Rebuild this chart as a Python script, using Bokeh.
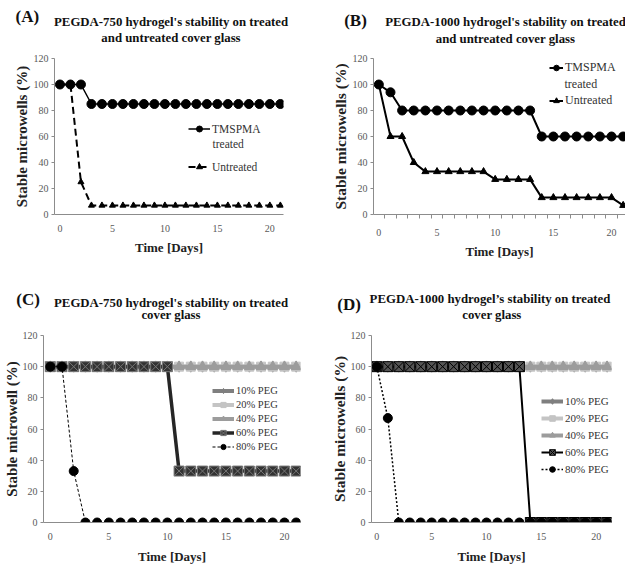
from bokeh.plotting import figure
from bokeh.models import Label, Legend, LegendItem, FixedTicker, Range1d
from bokeh.layouts import column, row
from bokeh.embed import file_html
from bokeh.resources import INLINE

# ---------------- data ----------------
days = [0, 1, 2, 3, 4, 5, 6, 7, 8, 9, 10, 11, 12, 13, 14, 15, 16, 17, 18, 19, 20, 21]
x_ticks = [0, 5, 10, 15, 20]
y_ticks = [0, 20, 40, 60, 80, 100, 120]

a_treated = [100, 100, 100, 85, 85, 85, 85, 85, 85, 85, 85, 85, 85, 85, 85, 85, 85, 85, 85, 85, 85, 85]
a_untreated = [100, 100, 25, 7, 7, 7, 7, 7, 7, 7, 7, 7, 7, 7, 7, 7, 7, 7, 7, 7, 7, 7]

b_treated = [100, 94, 80, 80, 80, 80, 80, 80, 80, 80, 80, 80, 80, 80, 60, 60, 60, 60, 60, 60, 60, 60]
b_untreated = [100, 60, 60, 40, 33, 33, 33, 33, 33, 33, 27, 27, 27, 27, 13, 13, 13, 13, 13, 13, 13, 7]

c_peg10 = [100, 100, 100, 100, 100, 100, 100, 100, 100, 100, 100, 100, 100, 100, 100, 100, 100, 100, 100, 100, 100, 100]
c_peg20 = [100, 100, 100, 100, 100, 100, 100, 100, 100, 100, 100, 100, 100, 100, 100, 100, 100, 100, 100, 100, 100, 100]
c_peg40 = [100, 100, 100, 100, 100, 100, 100, 100, 100, 100, 100, 100, 100, 100, 100, 100, 100, 100, 100, 100, 100, 100]
c_peg60 = [100, 100, 100, 100, 100, 100, 100, 100, 100, 100, 100, 33, 33, 33, 33, 33, 33, 33, 33, 33, 33, 33]
c_peg80 = [100, 100, 33, 0, 0, 0, 0, 0, 0, 0, 0, 0, 0, 0, 0, 0, 0, 0, 0, 0, 0, 0]

d_peg10 = [100, 100, 100, 100, 100, 100, 100, 100, 100, 100, 100, 100, 100, 100, 100, 100, 100, 100, 100, 100, 100, 100]
d_peg20 = [100, 100, 100, 100, 100, 100, 100, 100, 100, 100, 100, 100, 100, 100, 100, 100, 100, 100, 100, 100, 100, 100]
d_peg40 = [100, 100, 100, 100, 100, 100, 100, 100, 100, 100, 100, 100, 100, 100, 100, 100, 100, 100, 100, 100, 100, 100]
d_peg60 = [100, 100, 100, 100, 100, 100, 100, 100, 100, 100, 100, 100, 100, 100, 0, 0, 0, 0, 0, 0, 0, 0]
d_peg80 = [100, 67, 0, 0, 0, 0, 0, 0, 0, 0, 0, 0, 0, 0, 0, 0, 0, 0, 0, 0, 0, 0]

titles_top = ["(A)", "PEGDA-750 hydrogel's stability on treated", "and untreated cover glass",
              "(B)", "PEGDA-1000 hydrogel's stability on treated", "and untreated cover glass"]
titles_bottom = ["(C)", "PEGDA-750 hydrogel's stability on treated", "cover glass",
                 "(D)", "PEGDA-1000 hydrogel\u2019s stability on treated", "cover glass"]

SERIF = "Liberation Serif"


def make_header(w, h, texts, pos):
    hp = figure(width=w, height=h, output_backend="svg", toolbar_location=None,
                x_range=Range1d(0, w), y_range=Range1d(0, h),
                x_axis_location=None, y_axis_location=None, min_border=0)
    hp.outline_line_color = None
    hp.grid.visible = False
    for t, (x, y, size) in zip(texts, pos):
        hp.add_layout(Label(x=x, y=h - y, text=t, text_align="center",
                            text_baseline="middle", text_font=SERIF,
                            text_font_size=size, text_font_style="bold",
                            text_color="#111111"))
    return hp


def make_fig(w, h, left, right, top, bottom, xr, ylabel, ylabel_size, minor=False):
    p = figure(width=w, height=h, output_backend="svg", toolbar_location=None,
               x_range=Range1d(*xr), y_range=Range1d(0, 120),
               min_border_left=left, min_border_right=right,
               min_border_top=top, min_border_bottom=bottom)
    p.outline_line_color = None
    p.xgrid.grid_line_color = None
    p.ygrid.grid_line_color = None
    if minor:
        p.xaxis.ticker = FixedTicker(ticks=x_ticks, minor_ticks=[i - 0.5 for i in range(23)])
    else:
        p.xaxis.ticker = FixedTicker(ticks=x_ticks)
    p.yaxis.ticker = FixedTicker(ticks=y_ticks)
    for ax in (p.xaxis[0], p.yaxis[0]):
        ax.axis_line_color = "#8c8c8c"
        ax.axis_line_width = 1
        ax.major_tick_line_color = "#8c8c8c"
        ax.minor_tick_line_color = "#8c8c8c"
        ax.major_tick_in = 0
        ax.minor_tick_in = 0
        ax.major_label_text_font = SERIF
        ax.major_label_text_font_size = "10px"
        ax.major_label_text_color = "#595959"
        ax.axis_label_text_font = SERIF
        ax.axis_label_text_font_style = "bold"
        ax.axis_label_text_color = "#222222"
    p.xaxis.major_tick_out = 0
    p.xaxis.minor_tick_out = 4 if minor else 0
    p.yaxis.major_tick_out = 3
    p.yaxis.minor_tick_out = 0
    p.xaxis.axis_label = "Time [Days]"
    p.xaxis.axis_label_text_font_size = "13px"
    p.xaxis.major_label_standoff = 10
    p.xaxis.axis_label_standoff = 5
    p.yaxis.axis_label = ylabel
    p.yaxis.axis_label_text_font_size = ylabel_size
    p.yaxis.major_label_standoff = 3
    p.yaxis.axis_label_standoff = 1
    return p


def add_legend(p, items, loc, spacing, lh, gw, fsize):
    lg = Legend(items=items, location=loc, background_fill_alpha=0,
                border_line_alpha=0, padding=0, margin=0, spacing=spacing,
                glyph_width=gw, glyph_height=lh, label_height=lh,
                label_standoff=2, label_text_font=SERIF,
                label_text_font_size=fsize, label_text_color="#333333")
    p.add_layout(lg)


def add_note(p, x, y, text, fsize):
    p.add_layout(Label(x=x, y=y, x_units="screen", y_units="screen", text=text,
                       text_align="left", text_baseline="middle", text_font=SERIF,
                       text_font_size=fsize, text_color="#333333"))


# ---------------- headers ----------------
head_top = make_header(625, 51, titles_top,
                       [(26.8, 15.6, "17px"), (170.6, 21.1, "12.8px"), (170.6, 37.2, "12.8px"),
                        (355, 20.4, "17px"), (505, 21.4, "12.8px"), (505, 38.2, "12.8px")])
head_bottom = make_header(625, 45, titles_bottom,
                          [(27.6, 18.6, "17px"), (170.6, 22.2, "12.8px"), (170.6, 34.4, "12.8px"),
                           (348.6, 23.9, "17px"), (489.5, 18.3, "12.8px"), (491.4, 34.4, "12.8px")])

# ---------------- panel A ----------------
pa = make_fig(312, 229, 54, 29, 7, 66, (-0.52, 21.3), "Stable microwells (%)", "15px")
la1 = pa.line(days, a_treated, line_color="black", line_width=1.5)
ma1 = pa.scatter(days, a_treated, marker="circle", size=9, fill_color="black", line_color="black")
la2 = pa.line(days, a_untreated, line_color="black", line_width=2, line_dash="7 4")
ma2 = pa.scatter(days, a_untreated, marker="triangle", size=6, fill_color="black", line_color="black")
add_legend(pa, [LegendItem(label="TMSPMA", renderers=[la1, ma1]),
                LegendItem(label="Untreated", renderers=[la2, ma2])],
           (134, 40), 23, 15, 22, "11.5px")
add_note(pa, 158, 71, "treated", "11.5px")

# ---------------- panel B ----------------
pb = make_fig(313, 229, 61, 0, 7, 66, (-0.46, 21.2), "Stable microwells (%)", "15.5px", minor=True)
lb1 = pb.line(days, b_treated, line_color="black", line_width=2)
mb1 = pb.scatter(days, b_treated, marker="circle", size=9, fill_color="black", line_color="black")
lb2 = pb.line(days, b_untreated, line_color="black", line_width=2)
mb2 = pb.scatter(days, b_untreated, marker="triangle", size=7, fill_color="black", line_color="black")
add_legend(pb, [LegendItem(label="TMSPMA", renderers=[lb1, mb1]),
                LegendItem(label="Untreated", renderers=[lb2, mb2])],
           (176, 106), 18, 15, 14, "12px")
add_note(pb, 191, 130.4, "treated", "12px")

# ---------------- panel C ----------------
pc = make_fig(312, 242, 41, 12, 9, 45, (-0.58, 21.37), "Stable microwell (%)", "15px")
pc.xaxis.axis_label_standoff = 6
pc.yaxis.axis_label_standoff = 0
c_items = []
for vals, col, mk, sz, lab in ((c_peg10, "#7f7f7f", "diamond", 11, "10% PEG"),
                               (c_peg20, "#c4c4c4", "square", 9, "20% PEG"),
                               (c_peg40, "#9c9c9c", "triangle", 10, "40% PEG")):
    l = pc.line(days, vals, line_color=col, line_width=4)
    m = pc.scatter(days, vals, marker=mk, size=sz, fill_color=col, line_color=col)
    c_items.append(LegendItem(label=lab, renderers=[l, m]))
l = pc.line(days, c_peg60, line_color="#262626", line_width=3.5)
m = pc.scatter(days, c_peg60, marker="square_x", size=10, fill_color="#333333", line_color="#777777")
c_items.append(LegendItem(label="60% PEG", renderers=[l, m]))
l = pc.line(days, c_peg80, line_color="black", line_width=1, line_dash="3 2")
m = pc.scatter(days, c_peg80, marker="circle", size=9, fill_color="black", line_color="black")
c_items.append(LegendItem(label="80% PEG", renderers=[l, m]))
add_legend(pc, c_items, (169, 69), 1, 13, 22, "10.5px")

# ---------------- panel D ----------------
pd = make_fig(313, 242, 59, 14, 10, 44, (-0.49, 21.4), "Stable microwells (%)", "15.5px")
pd.xaxis.axis_label_standoff = 6
pd.yaxis.axis_label_standoff = 0
d_items = []
for vals, col, mk, sz, lab in ((d_peg10, "#7f7f7f", "diamond", 11, "10% PEG"),
                               (d_peg20, "#c4c4c4", "square", 9, "20% PEG"),
                               (d_peg40, "#9c9c9c", "triangle", 10, "40% PEG")):
    l = pd.line(days, vals, line_color=col, line_width=4)
    m = pd.scatter(days, vals, marker=mk, size=sz, fill_color=col, line_color=col)
    d_items.append(LegendItem(label=lab, renderers=[l, m]))
l = pd.line(days, d_peg60, line_color="black", line_width=2)
m = pd.scatter(days, d_peg60, marker="square_x", size=10, fill_color="#555555", line_color="black")
d_items.append(LegendItem(label="60% PEG", renderers=[l, m]))
l = pd.line(days, d_peg80, line_color="black", line_width=1.5, line_dash="2 2")
m = pd.scatter(days, d_peg80, marker="circle", size=9, fill_color="black", line_color="black")
d_items.append(LegendItem(label="80% PEG", renderers=[l, m]))
add_legend(pd, d_items, (170, 46), 3, 14, 22, "11px")

layout = column(head_top, row(pa, pb), head_bottom, row(pc, pd))
open("out.html", "w").write(file_html(layout, INLINE))
